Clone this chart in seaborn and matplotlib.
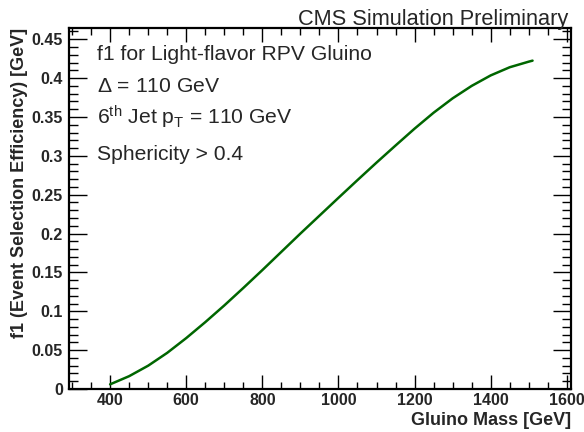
import matplotlib
matplotlib.use("Agg")
import matplotlib.pyplot as plt
from matplotlib.ticker import MultipleLocator, FuncFormatter
import seaborn as sns
import pandas as pd

# Event selection efficiency f1 vs gluino mass
gluino_mass = [400, 450, 500, 550, 600, 650, 700, 750, 800, 850, 900, 950,
               1000, 1050, 1100, 1150, 1200, 1250, 1300, 1350, 1400, 1450,
               1500, 1510]
f1_eff = [0.006, 0.0165, 0.030, 0.0465, 0.0655, 0.086, 0.1075, 0.130,
          0.153, 0.1765, 0.200, 0.223, 0.246, 0.2688, 0.2913, 0.3133,
          0.335, 0.3555, 0.374, 0.390, 0.4035, 0.414, 0.4212, 0.4225]

info_lines = ["f1 for Light-flavor RPV Gluino",
              r"$\Delta$ = 110 GeV",
              r"6$^{\rm th}$ Jet p$_{\rm T}$ = 110 GeV",
              "Sphericity > 0.4"]

sns.set_style("ticks")
plt.rcParams["font.family"] = ["Liberation Sans", "DejaVu Sans"]
plt.rcParams["mathtext.fontset"] = "custom"
plt.rcParams["mathtext.rm"] = "Liberation Sans"
plt.rcParams["mathtext.it"] = "Liberation Sans:italic"
plt.rcParams["mathtext.bf"] = "Liberation Sans:bold"

df = pd.DataFrame({"mass": gluino_mass, "f1": f1_eff})

fig = plt.figure(figsize=(5.84, 4.32), dpi=100)
ax = fig.add_axes([69 / 584, 43 / 432, 502 / 584, 361 / 432])

sns.lineplot(data=df, x="mass", y="f1", ax=ax, color="#006600",
             linewidth=1.8, sort=True)
for ln in ax.lines:
    ln.set_solid_capstyle("round")
    ln.set_solid_joinstyle("round")

ax.set_xlim(292, 1611)
ax.set_ylim(0, 0.4645)

ax.xaxis.set_major_locator(MultipleLocator(200))
ax.xaxis.set_minor_locator(MultipleLocator(50))
ax.yaxis.set_major_locator(MultipleLocator(0.05))
ax.yaxis.set_minor_locator(MultipleLocator(0.01))

ax.tick_params(which="both", direction="in", top=True, right=True,
               width=1.0, color="black")
ax.tick_params(axis="x", which="major", length=10, pad=3)
ax.tick_params(axis="x", which="minor", length=5)
ax.tick_params(axis="y", which="major", length=13, pad=4.3)
ax.tick_params(axis="y", which="minor", length=6.5)
ax.tick_params(axis="both", labelsize=11.5)
for lab in ax.get_xticklabels() + ax.get_yticklabels():
    lab.set_fontweight("bold")

ax.yaxis.set_major_formatter(FuncFormatter(
    lambda v, p: "0" if abs(v) < 1e-9 else f"{v:g}"))

for sp in ax.spines.values():
    sp.set_linewidth(1.6)
    sp.set_color("black")

ax.set_xlabel("Gluino Mass [GeV]", fontsize=13, fontweight="bold",
              loc="right")
ax.set_ylabel("f1 (Event Selection Efficiency) [GeV]", fontsize=13,
              fontweight="bold", loc="top")
ax.xaxis.set_label_coords(1.0, -0.063)
ax.yaxis.set_label_coords(-0.082, 1.0)

fig.text(568 / 584, 1 - 25 / 432, "CMS Simulation Preliminary",
         ha="right", va="baseline", fontsize=15.7)

ypos = [55, 87, 117, 155]
for txt, yp in zip(info_lines, ypos):
    fig.text(97 / 584, 1 - yp / 432, txt, ha="left", va="center",
             fontsize=15.2)

fig.savefig("out.png", dpi=100)
